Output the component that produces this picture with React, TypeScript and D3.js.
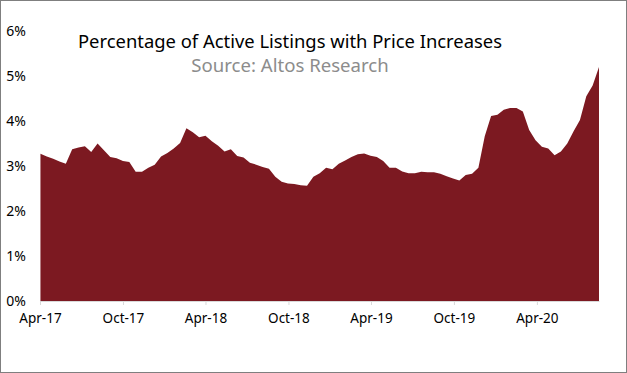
import React, { useEffect, useRef } from 'react';
import * as d3 from 'd3';

// readings every two weeks, starting the first week of April 2017
const startDate = '2017-04-02';
const values = [
  3.27, 3.21, 3.16, 3.10, 3.05, 3.37, 3.41, 3.44, 3.31, 3.50,
  3.35, 3.20, 3.17, 3.11, 3.09, 2.87, 2.87, 2.96, 3.03, 3.21,
  3.29, 3.39, 3.51, 3.84, 3.75, 3.64, 3.67, 3.55, 3.45, 3.32,
  3.37, 3.22, 3.19, 3.07, 3.03, 2.98, 2.94, 2.76, 2.65, 2.61,
  2.60, 2.57, 2.56, 2.76, 2.84, 2.96, 2.93, 3.05, 3.12, 3.20,
  3.26, 3.28, 3.23, 3.20, 3.11, 2.96, 2.96, 2.88, 2.84, 2.84,
  2.87, 2.86, 2.86, 2.83, 2.77, 2.72, 2.68, 2.80, 2.83, 2.96,
  3.66, 4.11, 4.14, 4.25, 4.29, 4.29, 4.21, 3.80, 3.57, 3.43,
  3.39, 3.24, 3.32, 3.50, 3.77, 4.02, 4.55, 4.79, 5.20
];

const xTickDates = ['2017-04-01', '2017-10-01', '2018-04-01', '2018-10-01', '2019-04-01', '2019-10-01', '2020-04-01'];
const yTicks = [0, 1, 2, 3, 4, 5, 6];

const title = 'Percentage of Active Listings with Price Increases';
const subtitle = 'Source: Altos Research';

const App = () => {
  const svgRef = useRef<SVGSVGElement | null>(null);

  useEffect(() => {
    const width = 627;
    const height = 373;
    const margin = { top: 31, right: 28, bottom: 72, left: 40 };
    const font = "'Noto Sans', 'Open Sans', sans-serif";

    const svg = d3.select(svgRef.current);
    svg.selectAll('*').remove();
    svg.attr('width', width).attr('height', height);

    const parse = d3.timeParse('%Y-%m-%d');
    const t0 = parse(startDate) as Date;
    const data = values.map((v, i) => ({ date: d3.timeDay.offset(t0, i * 14), value: v }));

    const x = d3.scaleTime()
      .domain([parse('2017-04-01') as Date, data[data.length - 1].date])
      .range([margin.left, width - margin.right]);
    const y = d3.scaleLinear()
      .domain([0, 6])
      .range([height - margin.bottom, margin.top]);

    // outer frame
    svg.append('rect')
      .attr('x', 0.5).attr('y', 0.5)
      .attr('width', width - 1).attr('height', height - 1)
      .attr('fill', '#fff')
      .attr('stroke', '#7f7f7f');

    const area = d3.area<{ date: Date; value: number }>()
      .x(d => x(d.date))
      .y0(y(0))
      .y1(d => y(d.value));

    svg.append('path')
      .datum(data)
      .attr('d', area)
      .attr('fill', '#7c1921');

    // x axis
    const xAxis = svg.append('g')
      .attr('transform', `translate(0,${y(0)})`)
      .call(d3.axisBottom(x)
        .tickValues(xTickDates.map(d => parse(d) as Date))
        .tickFormat(d => d3.timeFormat('%b-%y')(d as Date))
        .tickSizeInner(4)
        .tickSizeOuter(0));
    xAxis.select('.domain').attr('stroke', '#d9d9d9');
    xAxis.selectAll('.tick line').attr('stroke', '#d9d9d9');
    xAxis.selectAll('.tick text')
      .attr('fill', '#000')
      .attr('font-family', font)
      .attr('font-size', 13.5)
      .attr('dy', '1.1em');

    // y axis labels
    svg.append('g')
      .selectAll('text')
      .data(yTicks)
      .enter()
      .append('text')
      .attr('x', 26)
      .attr('y', d => y(d) + 5)
      .attr('text-anchor', 'end')
      .attr('font-family', font)
      .attr('font-size', 14)
      .attr('fill', '#000')
      .text(d => `${d}%`);

    svg.append('text')
      .attr('x', 290)
      .attr('y', 48)
      .attr('text-anchor', 'middle')
      .attr('font-family', font)
      .attr('font-size', 18.4)
      .attr('fill', '#000')
      .text(title);

    svg.append('text')
      .attr('x', 290)
      .attr('y', 72)
      .attr('text-anchor', 'middle')
      .attr('font-family', font)
      .attr('font-size', 18.6)
      .attr('fill', '#8c8c8c')
      .text(subtitle);
  }, []);

  return (
    <div style={{ position: 'fixed', left: 0, top: 0 }}>
      <svg ref={svgRef} style={{ display: 'block' }}></svg>
    </div>
  );
};

export default App;
